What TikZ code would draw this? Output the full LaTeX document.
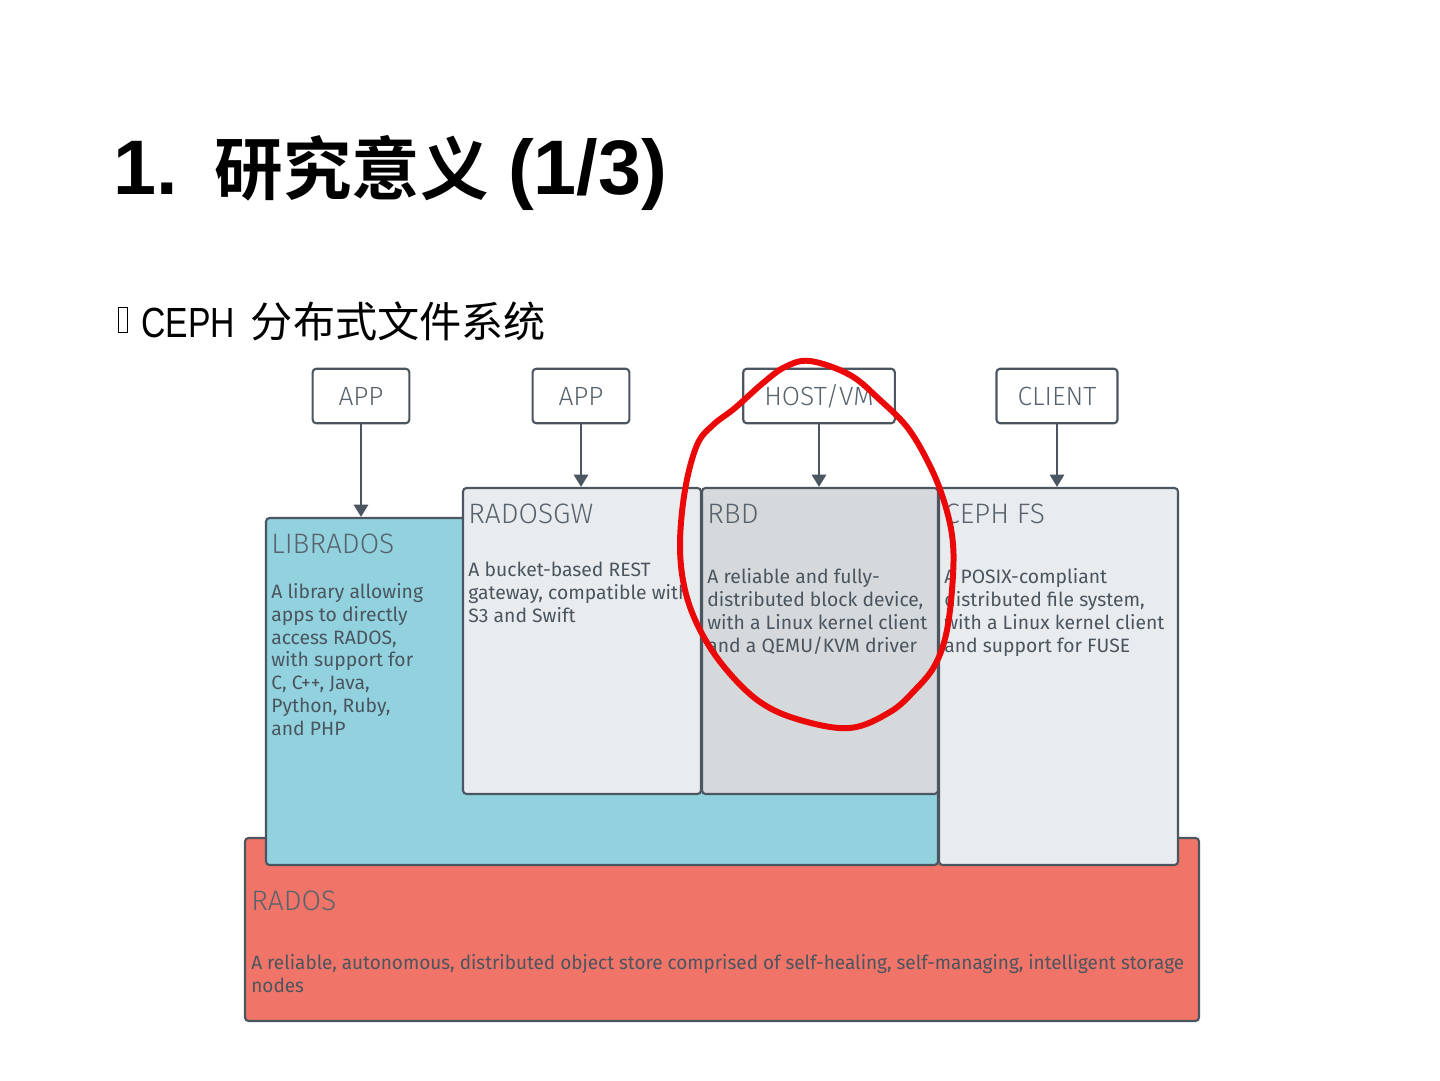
\documentclass[tikz,border=0pt]{standalone}
\usepackage{fontspec}
\usetikzlibrary{arrows.meta,positioning,fit}
\setmainfont{Fira Sans}
\newfontfamily\cjkfont{Noto Sans CJK SC}[BoldFont={* Bold}]
\newfontfamily\latinfont{Liberation Sans}
\newfontfamily\narrowfont{Liberation Sans}[FakeStretch=0.8]
\newfontfamily\boxfont{Fira Sans}
\newfontfamily\radosfont{Fira Sans}[FakeStretch=0.98]
\newfontfamily\boxlight{Fira Sans}[UprightFont={* Light}]
\definecolor{edge}{RGB}{75,86,97}
\definecolor{boxtext}{RGB}{88,99,109}
\definecolor{desctext}{RGB}{74,85,95}
\definecolor{libblue}{RGB}{146,210,223}
\definecolor{paleg}{RGB}{233,236,238}
\definecolor{rbdgray}{RGB}{213,217,219}
\definecolor{radosred}{RGB}{240,116,104}
\definecolor{markred}{RGB}{235,8,8}

\begin{document}
\begin{tikzpicture}[x=0.2mm, y=-0.2mm,
    layer/.style={draw=edge, line width=1.2pt, rounded corners=2pt, inner sep=0pt, fill=#1},
    client/.style={draw=edge, fill=white, line width=1.2pt, rounded corners=2pt,
                   minimum width=55pt, minimum height=31pt, inner xsep=12pt,
                   font=\boxlight\fontsize{15}{17}\selectfont, text=boxtext},
    ttl/.style={anchor=base west, inner sep=0pt, font=\boxlight\fontsize{16}{19}\selectfont, text=boxtext},
    desc/.style={anchor=base west, inner sep=0pt, align=left,
                 font=\boxfont\fontsize{11}{12.9}\selectfont, text=desctext},
    arr/.style={-{Triangle[width=8pt,length=7pt]}, line width=1.6pt, draw=edge},
    redloop/.style={draw=markred, line width=3.4pt, line cap=round, line join=round}]

    \useasboundingbox[fill=white] (0,0) rectangle (1440,1080);

    % slide heading
    \node[anchor=base west, inner sep=0pt, font=\bfseries\fontsize{44}{48}\selectfont] (heading) at (113,195)
      {{\latinfont 1.}\hspace{21pt}{\cjkfont\fontsize{39}{44}\selectfont 研究意义}\hspace{11pt}{\latinfont (1/3)}};
    \node[draw, line width=0.6pt, inner sep=0pt, minimum width=5.5pt, minimum height=14pt] (bullet) at (123,320) {};
    \node[anchor=base west, inner sep=0pt, font=\fontsize{24}{28}\selectfont] (subtitle) at (141,338)
      {{\narrowfont CEPH}\hspace{9pt}{\cjkfont 分布式文件系统}};

    % layers
    \node[layer=radosred, fit={(245,838) (1199,1021)}] (rados) {};
    \node[layer=libblue,  fit={(266,518) (938,865)}]   (librados) {};
    \node[layer=paleg,    fit={(939,488) (1178,865)}]  (cephfs) {};
    \node[layer=paleg,    fit={(463,488) (701,794)}]   (radosgw) {};
    \node[layer=rbdgray,  fit={(702,488) (938,794)}]   (rbd) {};

    % clients
    \node[client] (app1)   at (361,396)  {APP};
    \node[client] (app2)   at (581,396)  {APP};
    \node[client] (hostvm) at (819,396)  {HOST/VM};
    \node[client] (client) at (1057,396) {CLIENT};

    \draw[arr] (app1)   -- (app1 |- librados.north);
    \draw[arr] (app2)   -- (app2 |- radosgw.north);
    \draw[arr] (hostvm) -- (hostvm |- rbd.north);
    \draw[arr] (client) -- (client |- cephfs.north);

    % layer labels (desc nodes sit on the baseline of their last line)
    \node[ttl] (libradosT) at (271,553) {LIBRADOS};
    \node[desc] (libradosD) at (271,735) {A library allowing\\apps to directly\\access RADOS,\\with support for\\C, C++, Java,\\Python, Ruby,\\and PHP};
    \node[ttl] (radosgwT) at (468,523) {RADOSGW};
    \node[desc] (radosgwD) at (468,622) {A bucket-based REST\\gateway, compatible with\\S3 and Swift};
    \node[ttl] (rbdT) at (707,523) {RBD};
    \node[desc] (rbdD) at (707,652) {A reliable and fully-\\distributed block device,\\with a Linux kernel client\\and a QEMU/KVM driver};
    \node[ttl] (cephfsT) at (944,523) {CEPH FS};
    \node[desc] (cephfsD) at (944,652) {A POSIX-compliant\\distributed file system,\\with a Linux kernel client\\and support for FUSE};
    \node[ttl] (radosT) at (251,910) {RADOS};
    \node[desc, font=\radosfont\fontsize{11}{12.9}\selectfont] (radosD) at (251,992) {A reliable, autonomous, distributed object store comprised of self-healing, self-managing, intelligent storage\\nodes};

    % hand-drawn circle round RBD
    \draw[redloop] plot[smooth cycle, tension=0.6] coordinates {
      (810,361) (850,375) (880,400) (907,427) (927,460) (942,495) (952,535)
      (953,575) (947,630) (935,665) (915,690) (890,712) (850,728) (800,720)
      (760,702) (725,668) (700,630) (685,590) (680,545) (685,490) (697,445)
      (713,425) (735,408) (763,383) (785,367)};
\end{tikzpicture}
\end{document}
